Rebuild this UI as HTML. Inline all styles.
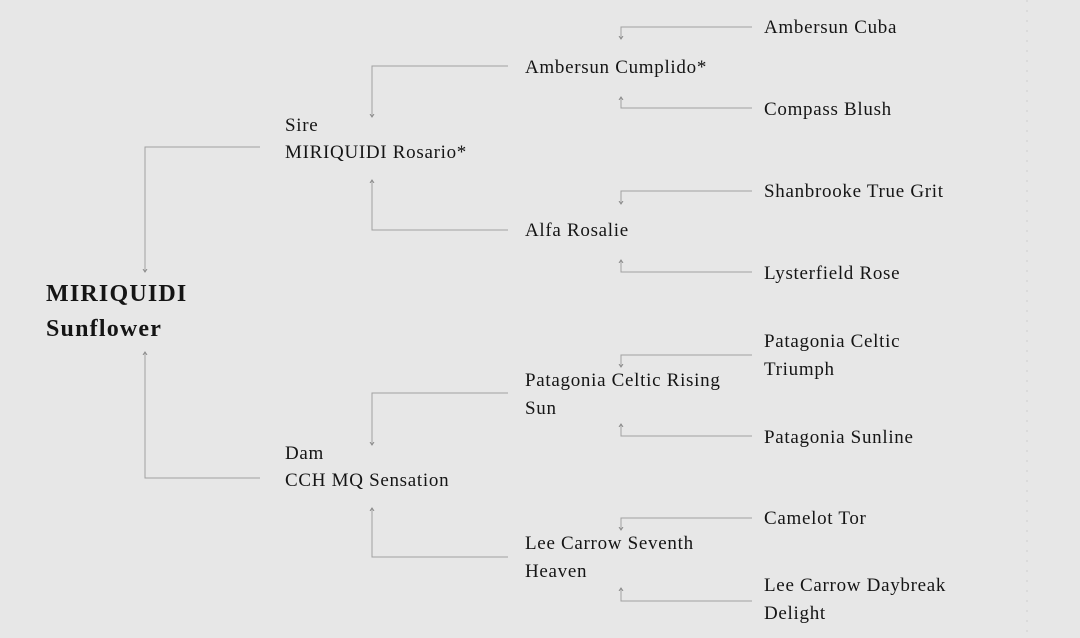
<!DOCTYPE html>
<html><head><meta charset="utf-8"><style>
html,body{margin:0;padding:0;background:#e7e7e7;}
svg{display:block}
text{font-family:"Liberation Serif",serif;font-size:19px;letter-spacing:0.7px;fill:#151515;}
.b{font-weight:bold;font-size:24px;letter-spacing:1.2px;}
line,polyline{stroke:#a0a0a0;stroke-width:1;fill:none}
</style></head><body>
<svg width="1080" height="638" viewBox="0 0 1080 638">
<defs><marker id="a" markerWidth="6" markerHeight="6" refX="3" refY="3" orient="auto"><path d="M0,1 L3,3 L0,5" stroke="#8a8a8a" fill="none" stroke-width="1"/></marker></defs>
<polyline points="260,147 145,147 145,272" marker-end="url(#a)"/>
<polyline points="260,478 145,478 145,352" marker-end="url(#a)"/>
<polyline points="508,66 372,66 372,117" marker-end="url(#a)"/>
<polyline points="508,230 372,230 372,180" marker-end="url(#a)"/>
<polyline points="508,393 372,393 372,445" marker-end="url(#a)"/>
<polyline points="508,557 372,557 372,508" marker-end="url(#a)"/>
<polyline points="752,27 621,27 621,39" marker-end="url(#a)"/>
<polyline points="752,108 621,108 621,97" marker-end="url(#a)"/>
<polyline points="752,191 621,191 621,204" marker-end="url(#a)"/>
<polyline points="752,272 621,272 621,260" marker-end="url(#a)"/>
<polyline points="752,355 621,355 621,367" marker-end="url(#a)"/>
<polyline points="752,436 621,436 621,424" marker-end="url(#a)"/>
<polyline points="752,518 621,518 621,530" marker-end="url(#a)"/>
<polyline points="752,601 621,601 621,588" marker-end="url(#a)"/>
<line x1="1027" y1="0" x2="1027" y2="638" stroke-dasharray="2,8" style="stroke:#cfcfcf"/>
<text class="b" x="46" y="301">MIRIQUIDI</text>
<text class="b" x="46" y="336">Sunflower</text>
<text x="285" y="131">Sire</text>
<text x="285" y="158">MIRIQUIDI Rosario*</text>
<text x="285" y="459">Dam</text>
<text x="285" y="486">CCH MQ Sensation</text>
<text x="525" y="73">Ambersun Cumplido*</text>
<text x="525" y="236">Alfa Rosalie</text>
<text x="525" y="386">Patagonia Celtic Rising</text>
<text x="525" y="414">Sun</text>
<text x="525" y="549">Lee Carrow Seventh</text>
<text x="525" y="577">Heaven</text>
<text x="764" y="33">Ambersun Cuba</text>
<text x="764" y="115">Compass Blush</text>
<text x="764" y="197">Shanbrooke True Grit</text>
<text x="764" y="279">Lysterfield Rose</text>
<text x="764" y="347">Patagonia Celtic</text>
<text x="764" y="375">Triumph</text>
<text x="764" y="443">Patagonia Sunline</text>
<text x="764" y="524">Camelot Tor</text>
<text x="764" y="591">Lee Carrow Daybreak</text>
<text x="764" y="619">Delight</text>
</svg>
</body></html>
